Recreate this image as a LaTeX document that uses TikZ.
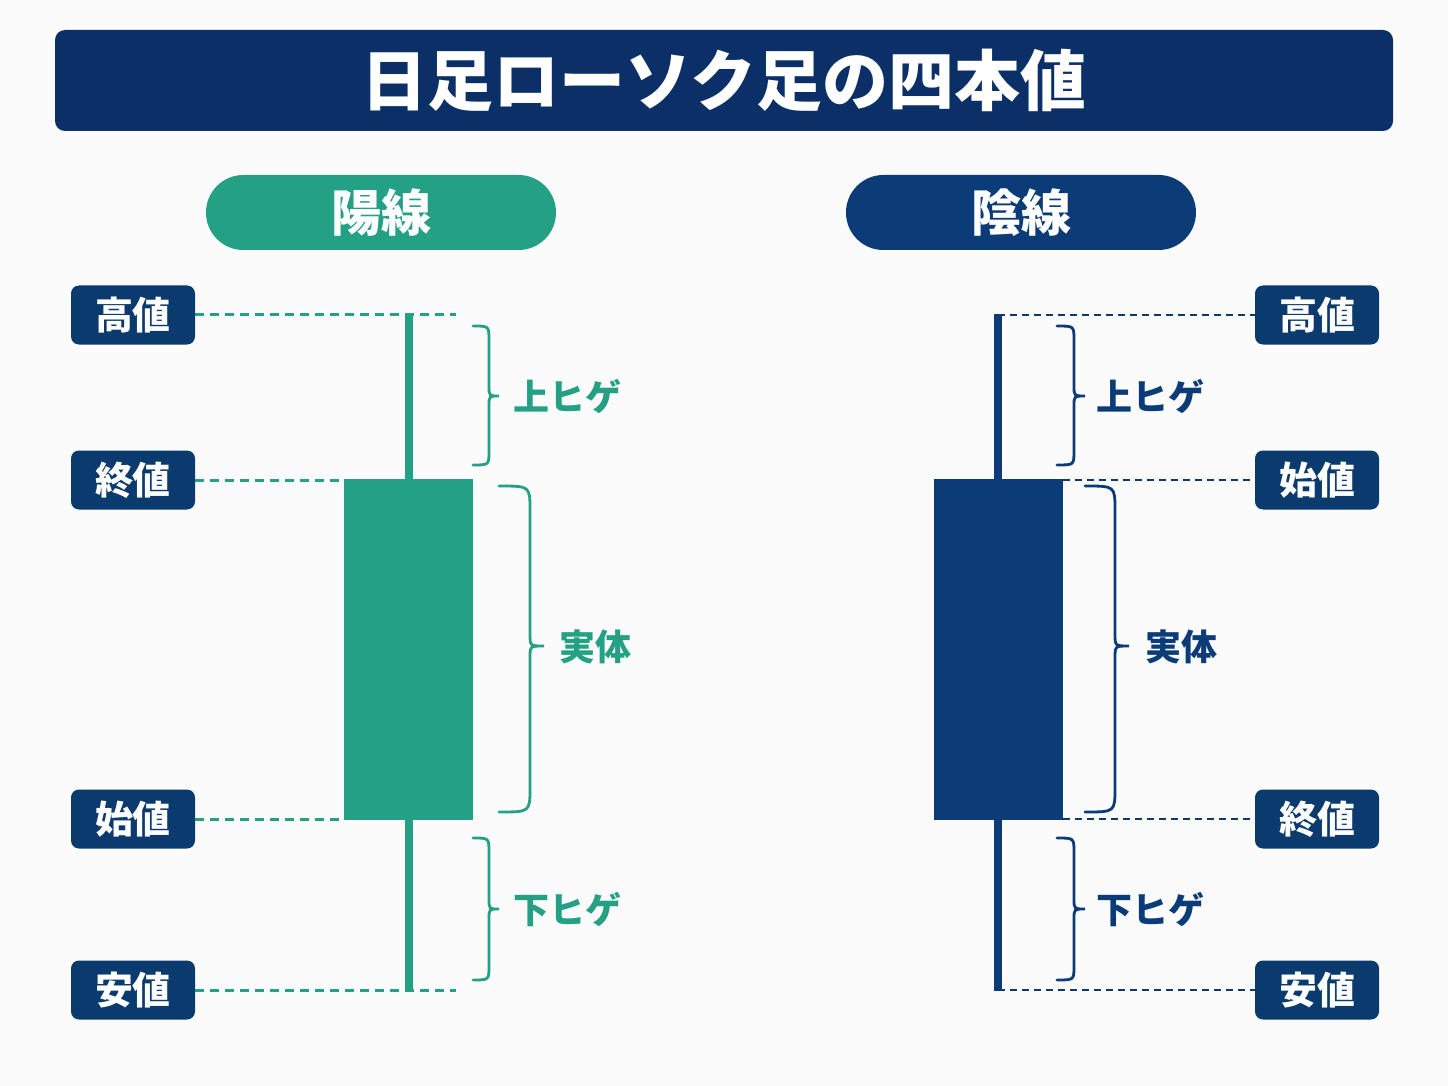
\documentclass[tikz,border=0pt]{standalone}
\usepackage{fontspec}
\newfontfamily\jp{Noto Sans CJK JP}
\definecolor{navy}{HTML}{0B3A6E}
\definecolor{titlenavy}{HTML}{0A3067}
\definecolor{candlenavy}{HTML}{0C3C77}
\definecolor{tealc}{HTML}{24A085}
\definecolor{bg}{HTML}{FBFBFB}
\begin{document}
\begin{tikzpicture}[x=0.5pt,y=-0.5pt,
  lab/.style={fill=navy, rounded corners=4pt, minimum width=62pt, minimum height=29.5pt, inner sep=0pt, text=white, font=\jp\bfseries\fontsize{19pt}{19pt}\selectfont},
  pill/.style={rounded corners=18.7pt, minimum width=175pt, minimum height=37.5pt, inner sep=0pt, text=white, font=\jp\bfseries\fontsize{25pt}{25pt}\selectfont},
  bracetxt/.style={anchor=west, inner sep=0pt, font=\jp\bfseries\fontsize{18pt}{18pt}\selectfont},
  tdash/.style={draw=tealc, line width=1.5pt, dash pattern=on 4.5pt off 3pt},
  ndash/.style={draw=navy, line width=1.45pt, dash pattern=on 3.6pt off 2.4pt},
  brT/.style={draw=tealc, line width=1.4pt, line cap=round},
  brN/.style={draw=candlenavy, line width=1.4pt, line cap=round},
  wick/.style={line width=4pt},
  body/.style={minimum width=64.5pt, minimum height=170.5pt, inner sep=0pt}]
\fill[bg] (0,0) rectangle (1448,1086);
\useasboundingbox (0,0) rectangle (1448,1086);
% title
\node[fill=titlenavy, rounded corners=5pt, minimum width=669pt, minimum height=50.5pt, inner sep=0pt, text=white, font=\jp\bfseries\fontsize{33pt}{33pt}\selectfont] (title) at (724,80.5) {日足ローソク足の四本値};
% pills
\node[pill, fill=tealc] (yo) at (381,212.5) {陽線};
\node[pill, fill=candlenavy] (in) at (1021,212.5) {陰線};
% left labels
\node[lab] (Lhi) at (133,315) {高値};
\node[lab] (Lcl) at (133,480) {終値};
\node[lab] (Lop) at (133,819) {始値};
\node[lab] (Llo) at (133,990) {安値};
% right labels
\node[lab] (Rhi) at (1317,315) {高値};
\node[lab] (Rop) at (1317,480) {始値};
\node[lab] (Rcl) at (1317,819) {終値};
\node[lab] (Rlo) at (1317,990) {安値};
% left candle
\coordinate (LH) at (409,314);
\coordinate (LL) at (409,991);
\coordinate (LHe) at (456,315);
\coordinate (LLe) at (456,990);
\draw[wick, tealc] (LH) -- (LL);
\node[body, fill=tealc] (Lbody) at (408.5,649.5) {};
\draw[tdash] (Lhi.east) -- (LHe);
\draw[tdash] (Lcl.east) -- (Lcl.east -| Lbody.west);
\draw[tdash] (Lop.east) -- (Lop.east -| Lbody.west);
\draw[tdash] (Llo.east) -- (LLe);
% right candle
\coordinate (RH) at (998,314);
\coordinate (RL) at (998,991);
\draw[wick, candlenavy] (RH) -- (RL);
\node[body, fill=candlenavy] (Rbody) at (998,649.5) {};
\draw[ndash] (Rhi.west -| RH) -- (Rhi.west);
\draw[ndash] (Rop.west -| Rbody.east) -- (Rop.west);
\draw[ndash] (Rcl.west -| Rbody.east) -- (Rcl.west);
\draw[ndash] (Rlo.west -| RL) -- (Rlo.west);
% left braces
\draw[brT] (473,326) .. controls (489,326) .. (489,340) -- (489,386) .. controls (489,396) .. (499,396) .. controls (489,396) .. (489,406) -- (489,451) .. controls (489,465) .. (473,465);
\draw[brT] (499,486) .. controls (530,486) .. (530,510) -- (530,634) .. controls (530,646) .. (544,646) .. controls (530,646) .. (530,658) -- (530,788) .. controls (530,812) .. (499,812);
\draw[brT] (473,838) .. controls (489,838) .. (489,852) -- (489,899) .. controls (489,909) .. (499,909) .. controls (489,909) .. (489,919) -- (489,966) .. controls (489,980) .. (473,980);
\node[bracetxt, text=tealc] (Lup) at (513,396) {上ヒゲ};
\node[bracetxt, text=tealc] (Lmid) at (559,647) {実体};
\node[bracetxt, text=tealc] (Ldn) at (513,910) {下ヒゲ};
% right braces
\draw[brN] (1057,326) .. controls (1074,326) .. (1074,340) -- (1074,386) .. controls (1074,396) .. (1085,396) .. controls (1074,396) .. (1074,406) -- (1074,451) .. controls (1074,465) .. (1057,465);
\draw[brN] (1085,486) .. controls (1115,486) .. (1115,510) -- (1115,634) .. controls (1115,646) .. (1129,646) .. controls (1115,646) .. (1115,658) -- (1115,788) .. controls (1115,812) .. (1085,812);
\draw[brN] (1057,838) .. controls (1074,838) .. (1074,852) -- (1074,899) .. controls (1074,909) .. (1085,909) .. controls (1074,909) .. (1074,919) -- (1074,966) .. controls (1074,980) .. (1057,980);
\node[bracetxt, text=candlenavy] (Rup) at (1096,396) {上ヒゲ};
\node[bracetxt, text=candlenavy] (Rmid) at (1145,647) {実体};
\node[bracetxt, text=candlenavy] (Rdn) at (1096,910) {下ヒゲ};
\end{tikzpicture}
\end{document}
